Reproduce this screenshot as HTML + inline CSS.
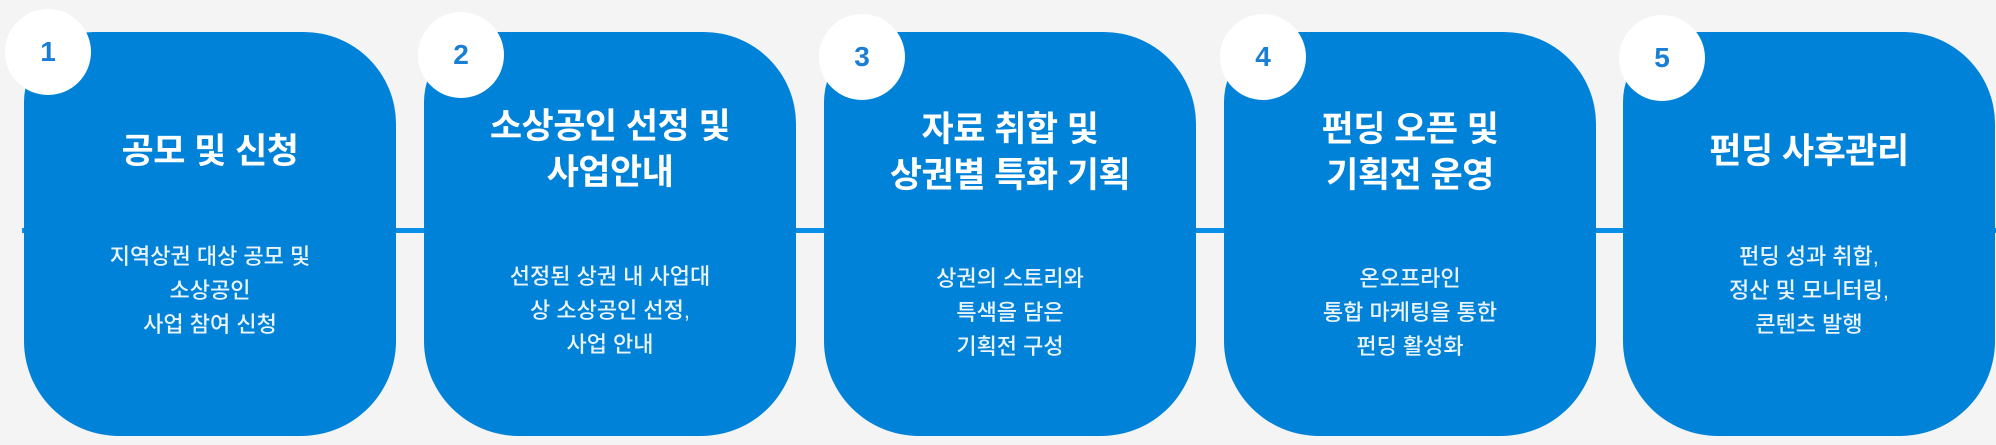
<!DOCTYPE html>
<html><head><meta charset="utf-8">
<style>
html,body{margin:0;padding:0}
body{width:1996px;height:445px;background:#f4f4f4;position:relative;overflow:hidden;font-family:"Liberation Sans","Noto Sans CJK KR",sans-serif}
.line{position:absolute;left:22px;right:0;top:228px;height:5px;background:#0a8fe8}
.box{position:absolute;top:32px;width:372px;height:404px;background:#0082d8;border-radius:70px 92px 95px 95px;color:#fff;text-align:center}
.t{position:absolute;left:0;right:0;font-weight:bold;font-size:35px;line-height:46px;letter-spacing:-0.5px}
.d{position:absolute;left:0;right:0;font-size:22px;line-height:34px;color:#eaf4fc;font-weight:500}
.c{position:absolute;width:86px;height:86px;border-radius:50%;background:#fff;color:#1a7fd4;font-weight:bold;font-size:28px;line-height:86px;text-align:center}
</style></head><body>
<div class="line"></div>

<div class="box" style="left:24px"><div class="t" style="top:97px">공모 및 신청</div><div class="d" style="top:208px">지역상권 대상 공모 및<br>소상공인<br>사업 참여 신청</div></div>
<div class="box" style="left:424px"><div class="t" style="top:72px">소상공인 선정 및<br>사업안내</div><div class="d" style="top:228px">선정된 상권 내 사업대<br>상 소상공인 선정,<br>사업 안내</div></div>
<div class="box" style="left:824px"><div class="t" style="top:75px">자료 취합 및<br>상권별 특화 기획</div><div class="d" style="top:230px">상권의 스토리와<br>특색을 담은<br>기획전 구성</div></div>
<div class="box" style="left:1224px"><div class="t" style="top:75px">펀딩 오픈 및<br>기획전 운영</div><div class="d" style="top:230px">온오프라인<br>통합 마케팅을 통한<br>펀딩 활성화</div></div>
<div class="box" style="left:1623px"><div class="t" style="top:97px">펀딩 사후관리</div><div class="d" style="top:208px">펀딩 성과 취합,<br>정산 및 모니터링,<br>콘텐츠 발행</div></div>

<div class="c" style="left:5px;top:9px">1</div>
<div class="c" style="left:418px;top:12px">2</div>
<div class="c" style="left:819px;top:14px">3</div>
<div class="c" style="left:1220px;top:14px">4</div>
<div class="c" style="left:1619px;top:15px">5</div>
</body></html>
